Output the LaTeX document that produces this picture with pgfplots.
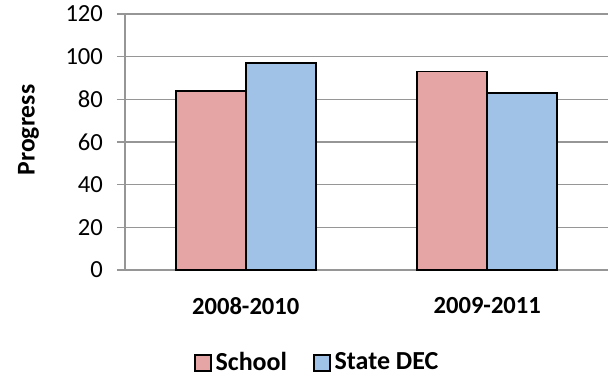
\documentclass[border=0pt]{standalone}
\usepackage{pgfplots}
\pgfplotsset{compat=1.18}
\usepackage{fontspec}
\setmainfont{Carlito}
\definecolor{schoolfill}{RGB}{228,165,164}
\definecolor{statefill}{RGB}{160,194,230}
\definecolor{gridgray}{RGB}{150,150,150}
\begin{document}
\begin{tikzpicture}
\begin{axis}[
  name=ax,
  scale only axis,
  width=241.5pt, height=128pt,
  ybar=0pt, bar width=35pt,
  xmin=0.5, xmax=2.5,
  ymin=0, ymax=120,
  ytick={0,20,...,120},
  xtick={1,2},
  xticklabels={2008-2010,2009-2011},
  x tick style={draw=none},
  extra x ticks={0.5,1.5,2.5},
  extra x tick labels={},
  extra x tick style={major tick length=4pt, tick style={draw=gridgray, line width=0.8pt}, tick align=outside},
  axis x line*=bottom,
  axis y line*=left,
  axis line style={draw=gridgray, line width=0.8pt, -},
  tick align=outside,
  major tick length=4pt,
  y tick style={draw=gridgray, line width=0.8pt},
  ymajorgrids,
  grid style={draw=gridgray, line width=0.8pt},
  /pgf/number format/assume math mode=true,
  tick label style={font=\fontsize{12.3}{14}\selectfont},
  yticklabel style={xshift=-3.5pt},
  xticklabel style={font=\fontsize{12.3}{14}\selectfont\bfseries, yshift=-6pt},
  ylabel={Progress},
  ylabel style={font=\fontsize{12.8}{14}\selectfont\bfseries, at={(axis description cs:-0.2,0.547)}, anchor=center},
  legend columns=2,
  legend style={draw=none, fill=none, at={(axis description cs:0.4,-0.363)}, anchor=center,
    font=\fontsize{13}{15}\selectfont\bfseries,
    /tikz/every even column/.append style={column sep=11pt}},
  legend image code/.code={\draw[#1, line width=0.8pt] (0pt,-4pt) rectangle (8pt,4pt);},
]
\addplot[fill=schoolfill, draw=black, line width=0.8pt] coordinates {(1,84) (2,93)};
\addplot[fill=statefill, draw=black, line width=0.8pt] coordinates {(1,97) (2,83)};
\legend{School, State DEC}
\end{axis}
\pgfresetboundingbox
\path ([shift={(-62.5pt,-53pt)}]ax.south west) rectangle ([shift={(4pt,7pt)}]ax.north east);
\end{tikzpicture}
\end{document}
